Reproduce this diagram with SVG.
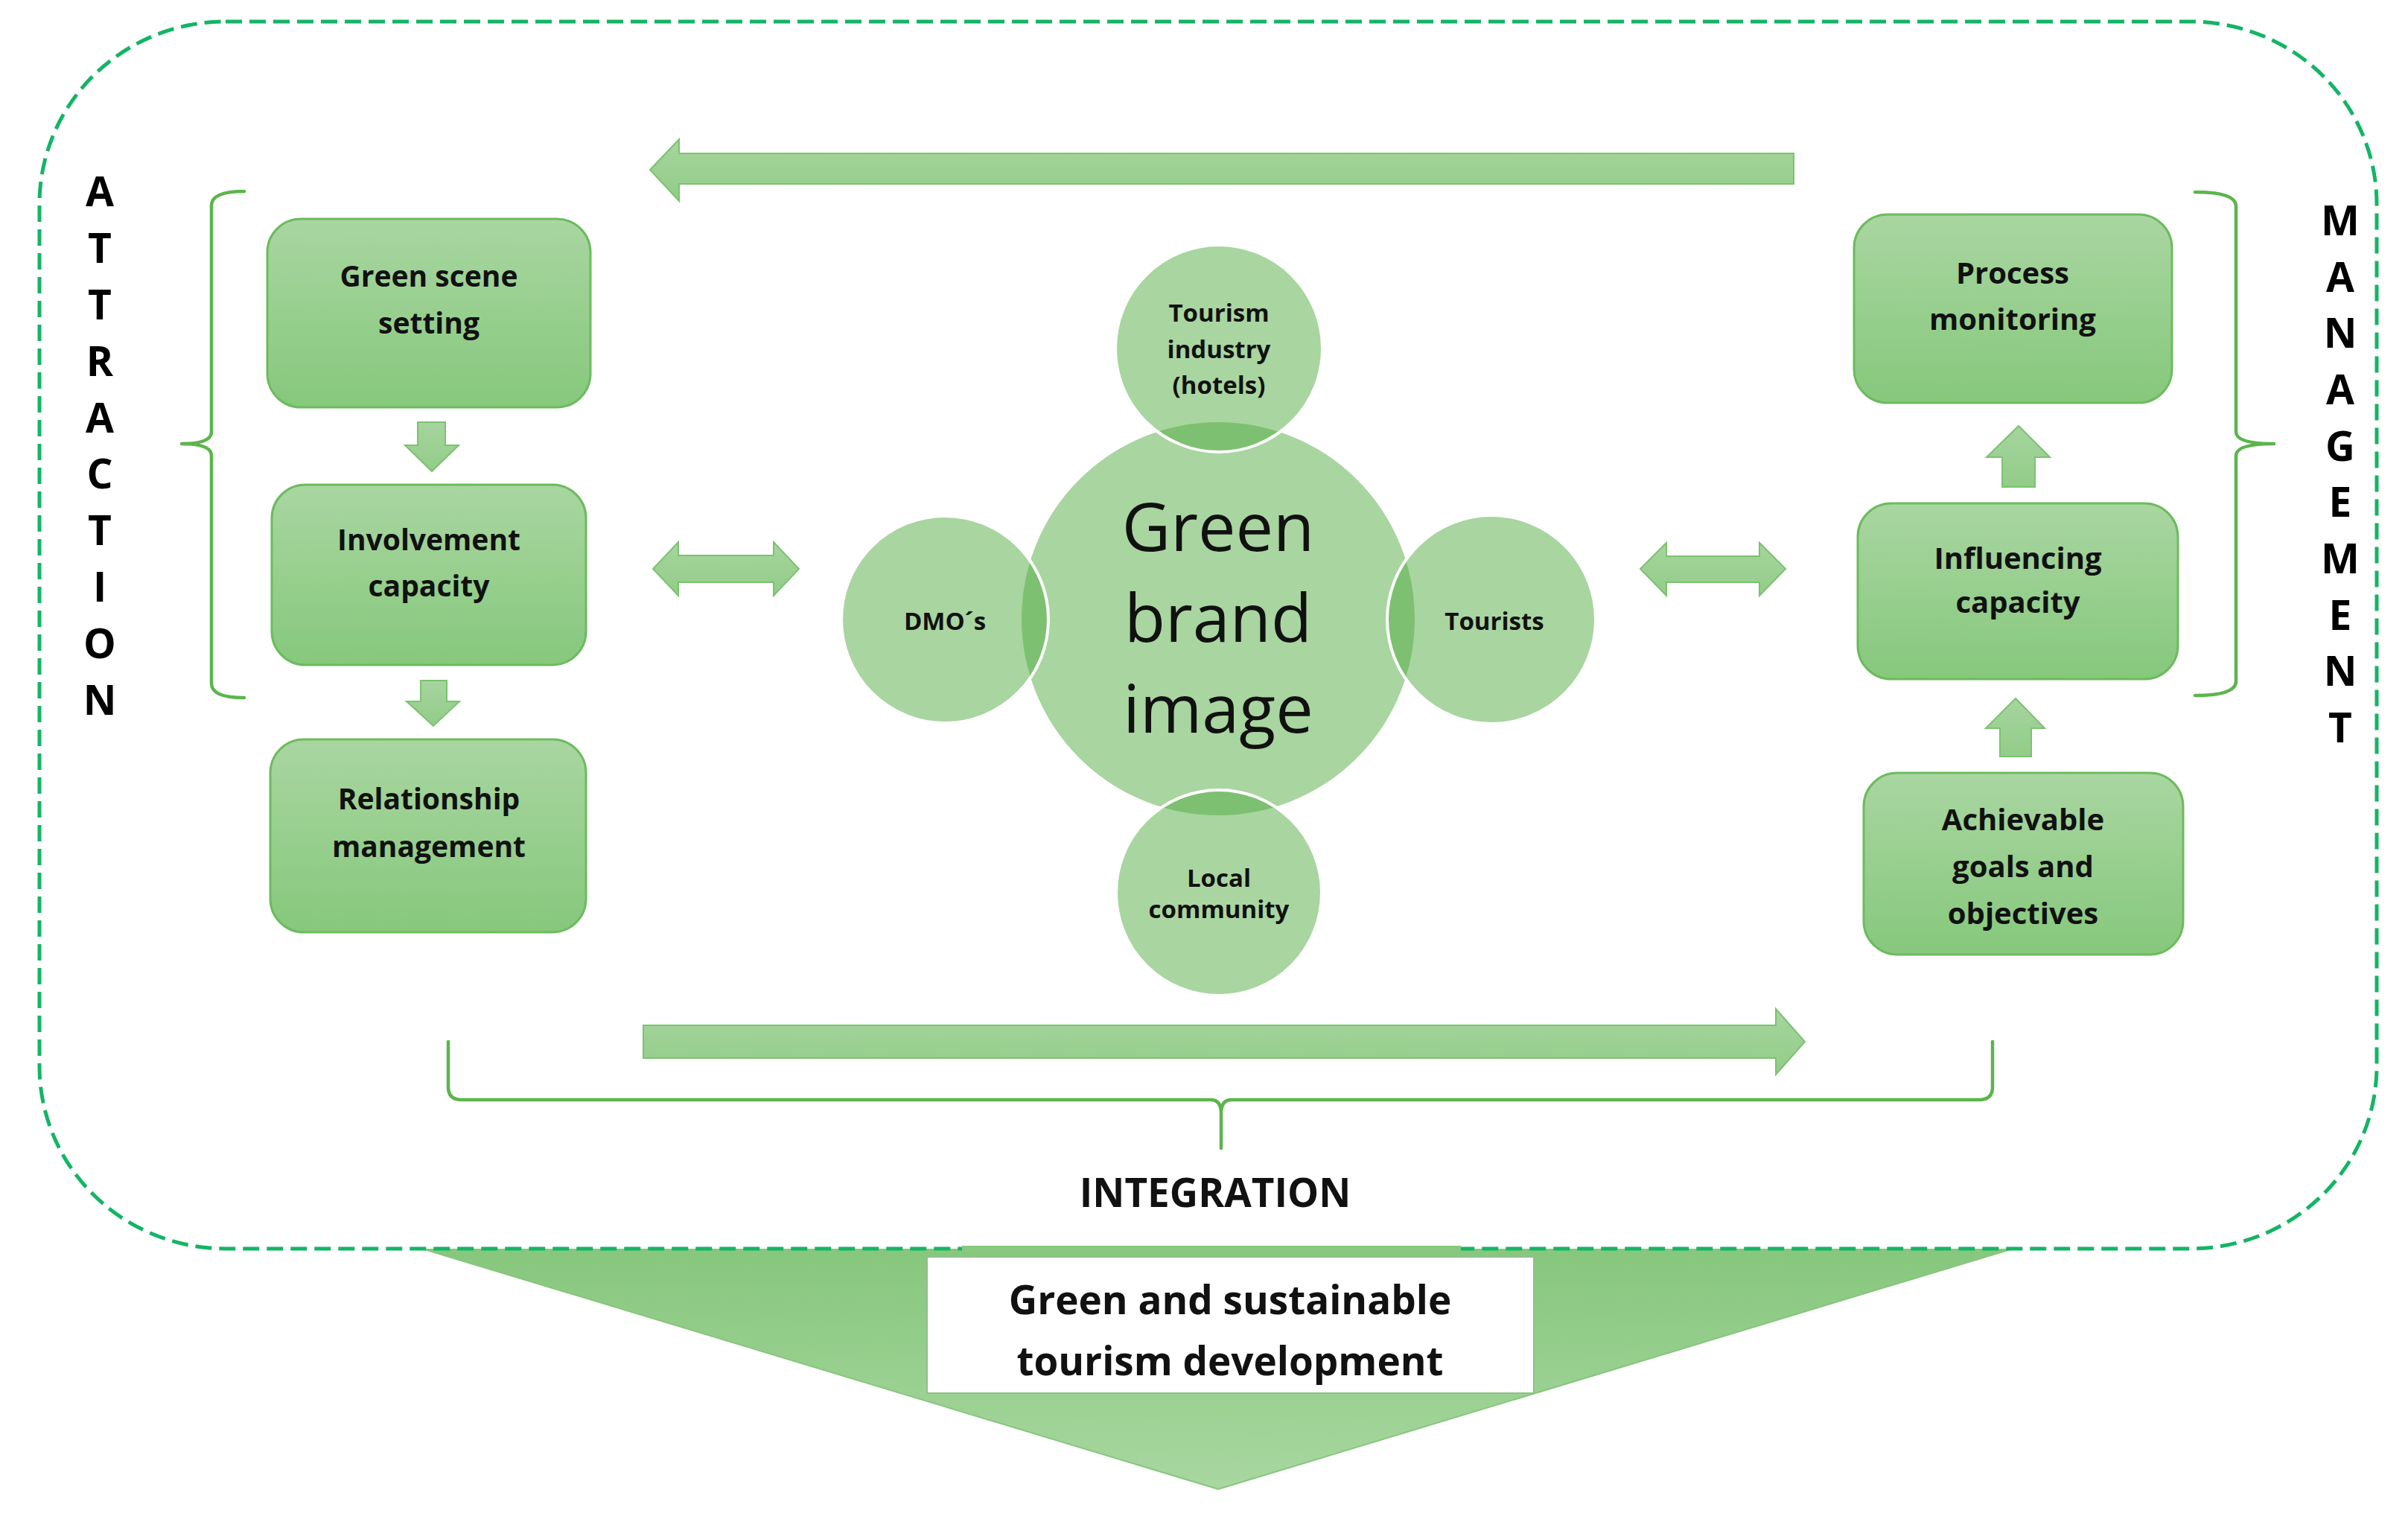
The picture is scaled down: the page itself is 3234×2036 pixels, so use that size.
<svg xmlns="http://www.w3.org/2000/svg" width="3234" height="2036" viewBox="0 0 3234 2036">
<style>
.box{fill:url(#boxg);stroke:#6cbb5e;stroke-width:3}
.arr{fill:url(#arrg);stroke:#7cc270;stroke-width:2}
.brk{fill:none;stroke:#5cb54d;stroke-width:4.5;stroke-linejoin:round;stroke-linecap:round}
.cir{fill:#53ab41;fill-opacity:0.5;stroke:#ffffff;stroke-width:4}
.bt{font-family:"Open Sans","Noto Sans","Liberation Sans",sans-serif;font-size:39px;font-weight:700;fill:#111;text-anchor:middle}
.rt{font-family:"Open Sans","Noto Sans","Liberation Sans",sans-serif;font-size:40px;font-weight:700;fill:#111;text-anchor:middle}
.ct{font-family:"Open Sans","Noto Sans","Liberation Sans",sans-serif;font-size:33px;font-weight:700;fill:#111;text-anchor:middle}
.big{font-family:"Open Sans","Noto Sans","Liberation Sans",sans-serif;font-size:90px;font-weight:400;fill:#111;text-anchor:middle}
.vl{font-family:"Open Sans","Noto Sans","Liberation Sans",sans-serif;font-size:55px;font-weight:700;fill:#000;text-anchor:middle}
.lab{font-family:"Open Sans","Noto Sans","Liberation Sans",sans-serif;font-size:53px;font-weight:700;fill:#111;text-anchor:middle}
</style>
<defs>
<linearGradient id="boxg" x1="0" y1="0" x2="0" y2="1">
<stop offset="0" stop-color="#a9d6a1"/>
<stop offset="1" stop-color="#86c87c"/>
</linearGradient>
<linearGradient id="arrg" x1="0" y1="0" x2="0" y2="1">
<stop offset="0" stop-color="#a6d59e"/>
<stop offset="1" stop-color="#92cc88"/>
</linearGradient>
<linearGradient id="trig" x1="0" y1="0" x2="0" y2="1">
<stop offset="0" stop-color="#87c77d"/>
<stop offset="1" stop-color="#a8d7a0"/>
</linearGradient>
</defs>
<rect width="3234" height="2036" fill="#ffffff"/>

<g id="outcome">
<polygon points="570,1678 2700,1678 1636,2000" fill="url(#trig)" stroke="#86c67c" stroke-width="2"/>
</g>

<g id="frame">
<rect x="53" y="29" width="3139" height="1648" rx="250" ry="245" fill="none" stroke="#13b565" stroke-width="5" stroke-dasharray="22 10"/>
<rect x="1292" y="1673" width="670" height="8" fill="#89c87f"/>
</g>

<g id="connectors">
<polygon class="arr" points="873,228 912,187 912,206 2409,206 2409,247 912,247 912,270"/>
<polygon class="arr" points="864,1377 2385,1377 2385,1355 2424,1399 2385,1443 2385,1421 864,1421"/>
<polygon class="arr" points="877,764 911,728 911,746 1039,746 1039,728 1073,764 1039,800 1039,782 911,782 911,800"/>
<polygon class="arr" points="2203,764 2238,729 2238,747 2363,747 2363,729 2398,764 2363,800 2363,782 2238,782 2238,800"/>
<polygon class="arr" points="561,567 598,567 598,598 616,598 580,633 544,598 561,598"/>
<polygon class="arr" points="565,914 600,914 600,942 617,942 582,975 546,942 565,942"/>
<polygon class="arr" points="2689,654 2733,654 2733,614 2753,614 2711,572 2668,614 2689,614"/>
<polygon class="arr" points="2686,1016 2728,1016 2728,978 2746,978 2707,938 2667,978 2686,978"/>
<path class="brk" d="M328,257 Q284,257 284,276 L284,580 Q284,596 244,596 Q284,596 284,612 L284,918 Q284,937 328,937"/>
<path class="brk" d="M2948,258 Q3003,258 3003,277 L3003,580 Q3003,596 3054,596 Q3003,596 3003,612 L3003,915 Q3003,934 2948,934"/>
<path class="brk" d="M602,1399 L602,1460 Q602,1477 620,1477 L1626,1477 Q1640,1477 1640,1495 L1640,1542 M1640,1495 Q1640,1477 1654,1477 L2658,1477 Q2676,1477 2676,1460 L2676,1399"/>
</g>

<g id="attraction-label">
<text class="vl" x="134" y="277">A</text>
<text class="vl" x="134" y="353">T</text>
<text class="vl" x="134" y="429">T</text>
<text class="vl" x="134" y="505">R</text>
<text class="vl" x="134" y="581">A</text>
<text class="vl" x="134" y="656">C</text>
<text class="vl" x="134" y="732">T</text>
<text class="vl" x="134" y="808">I</text>
<text class="vl" x="134" y="884">O</text>
<text class="vl" x="134" y="960">N</text>
</g>

<g id="management-label">
<text class="vl" x="3143" y="316">M</text>
<text class="vl" x="3143" y="392">A</text>
<text class="vl" x="3143" y="467">N</text>
<text class="vl" x="3143" y="543">A</text>
<text class="vl" x="3143" y="619">G</text>
<text class="vl" x="3143" y="694">E</text>
<text class="vl" x="3143" y="770">M</text>
<text class="vl" x="3143" y="846">E</text>
<text class="vl" x="3143" y="921">N</text>
<text class="vl" x="3143" y="997">T</text>
</g>

<g id="green-scene">
<rect class="box" x="359" y="294" width="434" height="253" rx="45"/>
<text class="bt" x="576" y="385">Green scene</text>
<text class="bt" x="576" y="448">setting</text>
</g>
<g id="involvement">
<rect class="box" x="365" y="651" width="422" height="242" rx="45"/>
<text class="bt" x="576" y="739">Involvement</text>
<text class="bt" x="576" y="801">capacity</text>
</g>
<g id="relationship">
<rect class="box" x="363" y="993" width="424" height="259" rx="45"/>
<text class="bt" x="576" y="1087">Relationship</text>
<text class="bt" x="576" y="1151">management</text>
</g>

<g id="process-monitoring">
<rect class="box" x="2490" y="288" width="427" height="253" rx="45"/>
<text class="rt" x="2703" y="381">Process</text>
<text class="rt" x="2703" y="443">monitoring</text>
</g>
<g id="influencing">
<rect class="box" x="2495" y="676" width="430" height="236" rx="45"/>
<text class="rt" x="2710" y="764">Influencing</text>
<text class="rt" x="2710" y="823">capacity</text>
</g>
<g id="achievable">
<rect class="box" x="2503" y="1038" width="429" height="244" rx="45"/>
<text class="rt" x="2717" y="1115">Achievable</text>
<text class="rt" x="2717" y="1178">goals and</text>
<text class="rt" x="2717" y="1241">objectives</text>
</g>

<g id="green-brand-image">
<circle class="cir" cx="1636" cy="831" r="266"/>
</g>
<g id="tourism-industry">
<circle class="cir" cx="1637" cy="468" r="139"/>
<text class="ct" x="1637" y="432">Tourism</text>
<text class="ct" x="1637" y="481">industry</text>
<text class="ct" x="1637" y="529">(hotels)</text>
</g>
<g id="dmos">
<circle class="cir" cx="1269" cy="832" r="139"/>
<text class="ct" x="1269" y="846">DMO´s</text>
</g>
<g id="tourists">
<circle class="cir" cx="2003" cy="832" r="140"/>
<text class="ct" x="2007" y="846">Tourists</text>
</g>
<g id="local-community">
<circle class="cir" cx="1637" cy="1199" r="138"/>
<text class="ct" x="1637" y="1191">Local</text>
<text class="ct" x="1637" y="1233">community</text>
</g>
<g id="green-brand-image-text">
<text class="big" x="1636" y="740">Green</text>
<text class="big" x="1636" y="862">brand</text>
<text class="big" x="1636" y="984">image</text>
</g>

<g id="integration-label">
<text class="lab" x="1632" y="1621">INTEGRATION</text>
</g>

<g id="outcome-box">
<rect x="1245" y="1688" width="815" height="183" fill="#ffffff" stroke="#8fbf88" stroke-width="2"/>
<text class="lab" x="1652" y="1765">Green and sustainable</text>
<text class="lab" x="1652" y="1847">tourism development</text>
</g>
</svg>
